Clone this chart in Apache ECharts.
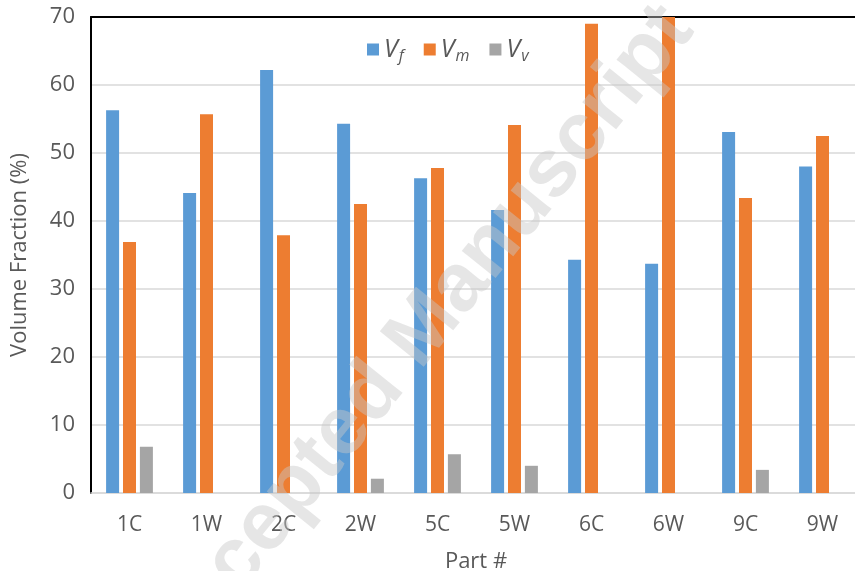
<!DOCTYPE html>
<html><head><meta charset="utf-8">
<script src="https://cdn.jsdelivr.net/npm/echarts@6/dist/echarts.min.js"></script>
<style>html,body{margin:0;padding:0;background:#fff}#c{width:855px;height:571px}</style>
</head><body><div id="c"></div>
<script>
const categories = ['1C','1W','2C','2W','5C','5W','6C','6W','9C','9W'];
const vf = [56.3, 44.1, 62.2, 54.3, 46.3, 41.6, 34.3, 33.7, 53.1, 48.0];
const vm = [36.9, 55.7, 37.9, 42.5, 47.8, 54.1, 69.0, 70.0, 43.4, 52.5];
const vv = [6.8, 0, 0, 2.1, 5.7, 4.0, 0, 0, 3.4, 0];
const yTicks = [0,10,20,30,40,50,60,70];

const chart = echarts.init(document.getElementById('c'));
const font = "'Open Sans', 'Noto Sans', sans-serif";
const legendRich = {
  v:{fontFamily:font, fontStyle:'italic', fontSize:25, color:'#595959'},
  s:{fontFamily:font, fontStyle:'italic', fontSize:16, color:'#595959', verticalAlign:'bottom', padding:[14,0,0,1]}
};
const subs = {'V_f':'f','V_m':'m','V_v':'v'};
chart.setOption({
  animation:false,
  backgroundColor:'#fff',
  graphic:[{
    type:'text', x:417, y:339,
    style:{text:'Accepted Manuscript', fontFamily:"'Liberation Sans', Arial, sans-serif", fontWeight:'bold', fontSize:82, fill:'rgba(200,200,200,0.45)', textAlign:'center', textVerticalAlign:'middle'},
    rotation: 51*Math.PI/180, z:100, silent:true
  }],
  legend:{
    top:32, left:362, itemWidth:12, itemHeight:12, itemGap:20, itemStyle:{borderWidth:0},
    icon:'rect',
    data:['V_f','V_m','V_v'],
    formatter:n=>'{v|V}{s|'+subs[n]+'}',
    textStyle:{rich:legendRich}
  },
  grid:{left:91, top:17, width:770, height:476, containLabel:false, outerBoundsMode:'none'},
  xAxis:[{
    type:'category', data:categories, position:'bottom',
    axisLine:{show:true, lineStyle:{color:'#d9d9d9', width:1.5}},
    axisTick:{show:false},
    axisLabel:{color:'#595959', fontFamily:font, fontSize:21, margin:22},
    name:'Part #', nameLocation:'middle', nameGap:58,
    nameTextStyle:{color:'#595959', fontFamily:font, fontSize:22}
  },{
    type:'category', data:categories, position:'top',
    axisLine:{show:true, lineStyle:{color:'#000', width:2}},
    axisTick:{show:false}, axisLabel:{show:false}
  }],
  yAxis:{
    type:'value', min:0, max:70, interval:10,
    axisLine:{show:true, lineStyle:{color:'#000', width:2}},
    axisTick:{show:false},
    splitLine:{lineStyle:{color:'#d9d9d9', width:1.5}},
    axisLabel:{color:'#595959', fontFamily:font, fontSize:22, margin:16, formatter:v=>yTicks.includes(v)?String(v):''},
    name:'Volume Fraction (%)', nameLocation:'middle', nameGap:60,
    nameTextStyle:{color:'#595959', fontFamily:font, fontSize:22}
  },
  series:[
    {name:'V_f', type:'bar', data:vf, barWidth:13, barGap:'30%', itemStyle:{color:'#5B9BD5'}},
    {name:'V_m', type:'bar', data:vm, barWidth:13, barGap:'30%', itemStyle:{color:'#ED7D31'}},
    {name:'V_v', type:'bar', data:vv, barWidth:13, barGap:'30%', itemStyle:{color:'#A5A5A5'}}
  ]
});
</script></body></html>
